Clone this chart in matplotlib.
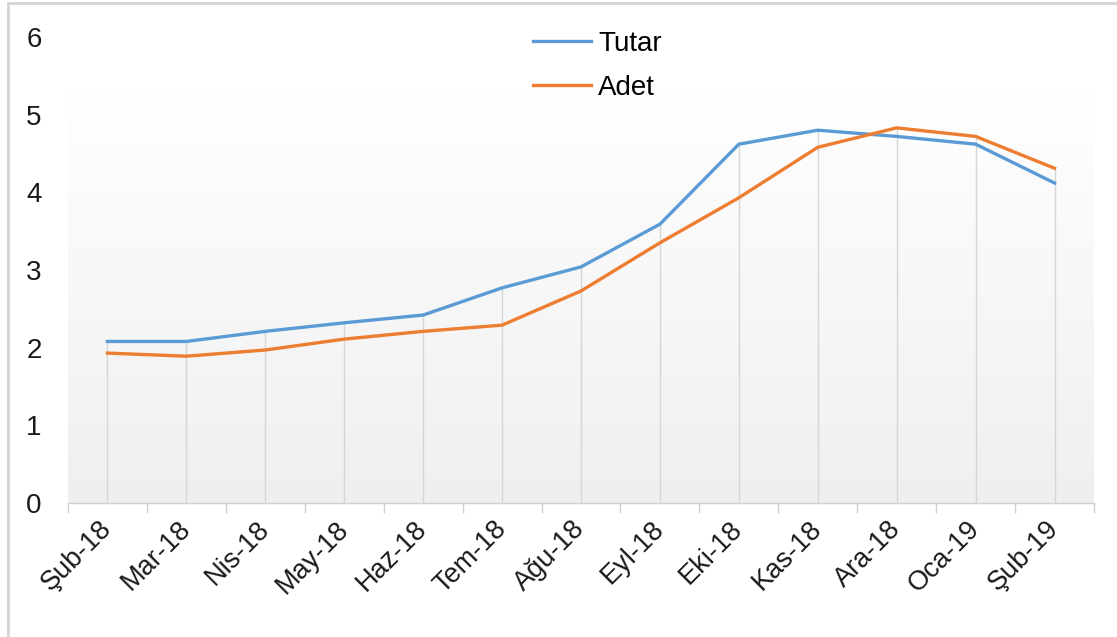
import matplotlib.pyplot as plt
from matplotlib.patches import Rectangle
import numpy as np

plt.rcParams['font.family'] = ['Liberation Sans', 'DejaVu Sans']

months = ["Şub-18", "Mar-18", "Nis-18", "May-18", "Haz-18", "Tem-18", "Ağu-18",
          "Eyl-18", "Eki-18", "Kas-18", "Ara-18", "Oca-19", "Şub-19"]
tutar = [2.08, 2.08, 2.21, 2.32, 2.42, 2.77, 3.04, 3.59, 4.62, 4.80, 4.72, 4.62, 4.12]
adet = [1.93, 1.89, 1.97, 2.11, 2.21, 2.29, 2.73, 3.35, 3.93, 4.58, 4.83, 4.72, 4.31]

x = np.arange(len(months))

fig = plt.figure(figsize=(11.17, 6.37), dpi=100)
ax = fig.add_axes([68 / 1117, 1 - 503 / 637, (1094 - 68) / 1117, (503 - 37) / 637])

# soft vertical gradient behind the plot
grad = np.linspace(0, 1, 256).reshape(-1, 1)
ax.imshow(grad, extent=(-0.5, 12.5, 0, 5.3), aspect='auto', origin='upper',
          cmap=plt.matplotlib.colors.LinearSegmentedColormap.from_list(
              'g', ['#ffffff', '#efefef']), zorder=0)

# drop lines
ax.vlines(x, 0, np.maximum(tutar, adet), color='#d6d6d6', lw=1, zorder=1)

ax.plot(x, tutar, color='#5b9bd5', lw=2.4, label='Tutar', zorder=3)
ax.plot(x, adet, color='#ed7d31', lw=2.4, label='Adet', zorder=3)

ax.set_xlim(-0.5, 12.5)
ax.set_ylim(0, 6)
ax.set_yticks(range(7))
ax.set_xticks(x)
ax.set_xticklabels(months, rotation=45, ha='right', va='center', rotation_mode='anchor')
ax.set_xticks(np.arange(-0.5, 13, 1), minor=True)
ax.tick_params(axis='x', which='major', length=0, pad=16, labelsize=19.5, labelcolor='#1a1a1a')
ax.tick_params(axis='x', which='minor', length=7, color='#d0d0d0', width=1)
ax.tick_params(axis='y', length=0, pad=19, labelsize=20, labelcolor='#1a1a1a')
for s in ['top', 'right', 'left']:
    ax.spines[s].set_visible(False)
ax.spines['bottom'].set_color('#d0d0d0')
ax.spines['bottom'].set_linewidth(1)

fig.legend(loc='upper left', bbox_to_anchor=(508 / 1117, 1 - 6 / 637), frameon=False,
           fontsize=20, handlelength=2.1, handletextpad=0.25, labelspacing=0.65)

fig.patches.append(Rectangle((8 / 1117, -0.1), 1.2, (1 - 3 / 637) + 0.1,
                             transform=fig.transFigure, fill=False,
                             edgecolor='#d4d4d4', lw=2))

fig.savefig('out.png', dpi=100)
